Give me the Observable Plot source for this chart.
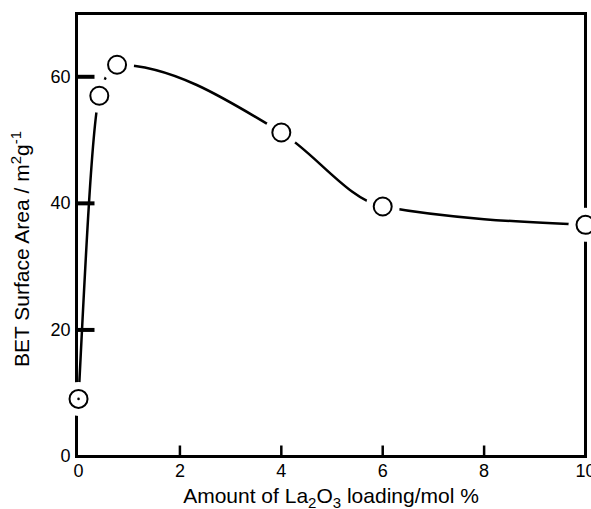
<!DOCTYPE html>
<html>
<head>
<meta charset="utf-8">
<script src="https://cdn.jsdelivr.net/npm/d3@7"></script>
<script src="https://cdn.jsdelivr.net/npm/@observablehq/plot@0.6"></script>
<style>
  body { margin: 0; background: #fff; }
  #chart svg { display: block; }
</style>
</head>
<body>
<div id="chart"></div>
<script>
// Data
const loading = [0, 0.41, 0.76, 4, 6, 10];           // La2O3 loading, mol %
const surfaceArea = [9.1, 57.0, 61.9, 51.2, 39.5, 36.6]; // BET surface area, m2/g
const xTicks = [0, 2, 4, 6, 8, 10];
const yTicks = [0, 20, 40, 60];
const xInnerTicks = [2, 4, 6, 8];
const yInnerTicks = [20, 40, 60];
const xLabel = "Amount of La2O3 loading/mol %";
const yLabel = "BET Surface Area / m2g-1";

const data = loading.map((x, i) => ({x, y: surfaceArea[i]}));

const font = "'Liberation Sans', Arial, Helvetica, sans-serif";
const stick = {draw(context, l) { context.moveTo(0, 0); context.lineTo(0, -l); }};

const chart = Plot.plot({
  width: 591,
  height: 509,
  marginLeft: 76,
  marginRight: 6,
  marginTop: 13,
  marginBottom: 53,
  style: {fontFamily: font, fontSize: "18px", background: "#fff", color: "#000"},
  x: {domain: [-0.04, 10]},
  y: {domain: [0, 70]},
  marks: [
    Plot.frame({stroke: "#000", strokeWidth: 3}),
    Plot.vector(yInnerTicks, {y: d => d, frameAnchor: "left", length: 18, rotate: 90, anchor: "start", shape: stick, stroke: "#000", strokeWidth: 4, strokeLinecap: "butt"}),
    Plot.vector(xInnerTicks, {x: d => d, frameAnchor: "bottom", length: 11, rotate: 0, anchor: "start", shape: stick, stroke: "#000", strokeWidth: 2.5, strokeLinecap: "butt"}),
    Plot.axisY(yTicks, {tickSize: 0, tickPadding: 6, fontSize: 18, label: yLabel, labelAnchor: "center", labelOffset: 62, labelArrow: "none"}),
    Plot.axisX(xTicks, {tickSize: 0, tickPadding: 8, fontSize: 18, label: xLabel, labelAnchor: "center", labelOffset: 46, labelArrow: "none"}),
    Plot.line(data, {x: "x", y: "y", curve: "monotone-x", stroke: "#000", strokeWidth: 2.5}),
    Plot.dot(data, {x: "x", y: "y", r: 17, fill: "#fff", stroke: "none"}),
    Plot.dot(data, {x: "x", y: "y", r: 9, fill: "none", stroke: "#000", strokeWidth: 2}),
    Plot.dot(data.slice(0, 1), {x: "x", y: "y", r: 1.3, fill: "#000"})
  ]
});

document.getElementById("chart").appendChild(chart);

// Sub/superscripts in axis labels
function fix(sel, parts, size) {
  const t = d3.select(chart).select(sel);
  if (t.empty()) return t;
  t.text(null).attr("font-size", size + "px");
  let prev = 0;
  for (const [s, shift] of parts) {
    const ts = t.append("tspan").text(s).attr("dy", shift - prev);
    if (shift) ts.attr("font-size", Math.round(size * 0.7) + "px");
    prev = shift;
  }
  return t;
}
fix('g[aria-label="y-axis label"] text', [["BET Surface Area / m", 0], ["2", -8], ["g", 0], ["-1", -8]], 21)
  .attr("dx", -14);
fix('g[aria-label="x-axis label"] text', [["Amount of La", 0], ["2", 5], ["O", 0], ["3", 5], [" loading/mol %", 0]], 21);
</script>
</body>
</html>
